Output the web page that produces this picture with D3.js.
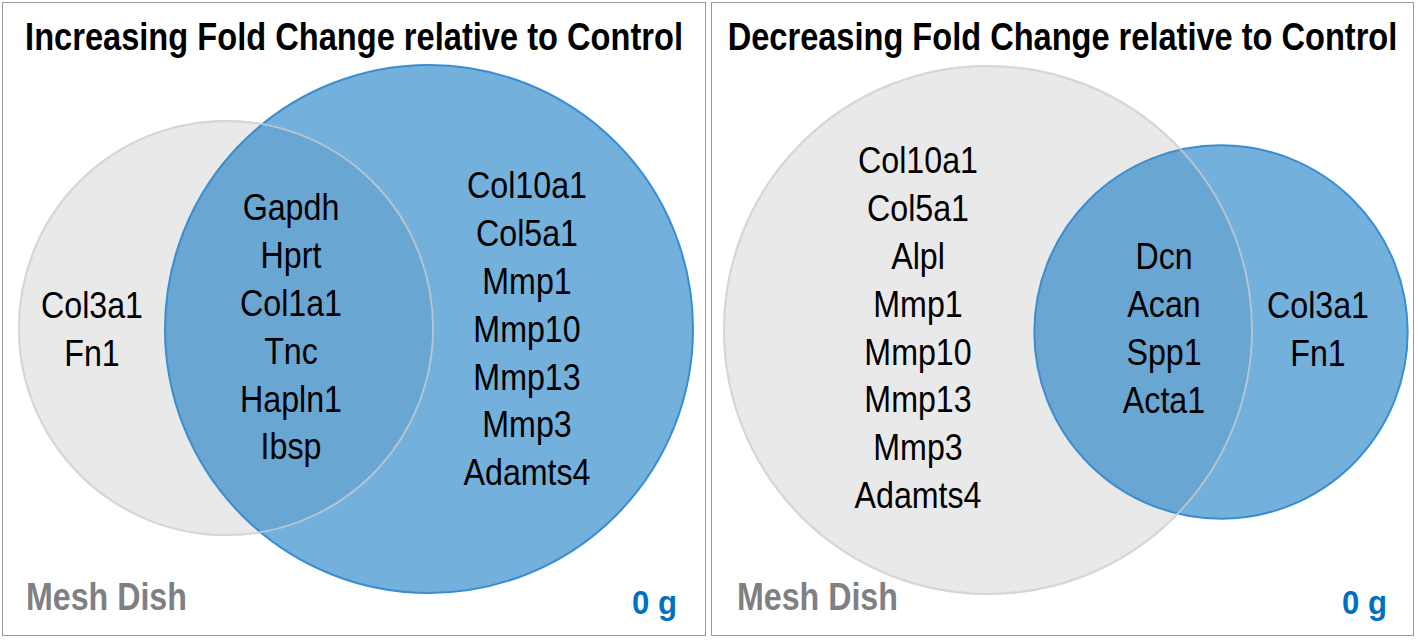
<!DOCTYPE html>
<html>
<head>
<meta charset="utf-8">
<script src="https://cdn.jsdelivr.net/npm/d3@7"></script>
<style>
  html, body { margin: 0; padding: 0; background: #fff; }
  svg { display: block; }
  text { font-family: "Liberation Sans", Arial, sans-serif; }
</style>
</head>
<body>
<svg id="chart" width="1418" height="640"></svg>
<script>
// ---------- data ----------
const panelTitles = ["Increasing Fold Change relative to Control", "Decreasing Fold Change relative to Control"];
const setNames = ["Mesh Dish", "0 g"];

// Increasing panel: genes by region
const incMeshOnly = ["Col3a1", "Fn1"];
const incShared   = ["Gapdh", "Hprt", "Col1a1", "Tnc", "Hapln1", "Ibsp"];
const incZeroOnly = ["Col10a1", "Col5a1", "Mmp1", "Mmp10", "Mmp13", "Mmp3", "Adamts4"];

// Decreasing panel: genes by region
const decMeshOnly = ["Col10a1", "Col5a1", "Alpl", "Mmp1", "Mmp10", "Mmp13", "Mmp3", "Adamts4"];
const decShared   = ["Dcn", "Acan", "Spp1", "Acta1"];
const decZeroOnly = ["Col3a1", "Fn1"];

// ---------- layout ----------
const svg = d3.select("#chart");
const maxR = 264;

const panels = [
  {
    x: 2.5, w: 703, title: panelTitles[0], titleLen: 658,
    meshOnly: incMeshOnly, shared: incShared, zeroOnly: incZeroOnly,
    meshC: [226, 328], zeroC: [429, 329],
    colX: { mesh: 92, shared: 291, zero: 527 },
    colY: { mesh: 318, shared: 220, zero: 198 },
    meshLabelX: 26, zeroLabelX: 677
  },
  {
    x: 711.5, w: 702, title: panelTitles[1], titleLen: 670,
    meshOnly: decMeshOnly, shared: decShared, zeroOnly: decZeroOnly,
    meshC: [988, 330], zeroC: [1221, 332],
    colX: { mesh: 918, shared: 1164, zero: 1318 },
    colY: { mesh: 173, shared: 269, zero: 318 },
    meshLabelX: 737, zeroLabelX: 1387
  }
];

const lineH = 47.9;
const geneSize = 37;
const geneScaleX = 0.87;

// place a text at (x,y) and squeeze it horizontally to a target width
function fitText(parent, str, x, y, width, anchor, attrs) {
  const wrap = parent.append("g");
  const t = wrap.append("text").attr("x", 0).attr("y", 0).attr("text-anchor", anchor).text(str);
  Object.entries(attrs).forEach(([k, v]) => t.attr(k, v));
  const natural = t.node().getComputedTextLength();
  const s = width / natural;
  wrap.attr("transform", `translate(${x},${y}) scale(${s},1)`);
  return t;
}

panels.forEach(p => {
  const meshN = p.meshOnly.length + p.shared.length;
  const zeroN = p.zeroOnly.length + p.shared.length;
  const r = d3.scaleSqrt().domain([0, Math.max(meshN, zeroN)]).range([0, maxR]);

  const g = svg.append("g");

  // panel frame
  g.append("rect")
    .attr("x", p.x).attr("y", 2.5).attr("width", p.w).attr("height", 633)
    .attr("fill", "none").attr("stroke", "#9a9a9a").attr("stroke-width", 1);

  // title
  fitText(g, p.title, p.x + p.w / 2, 50, p.titleLen, "middle",
    { "font-size": 39.5, "font-weight": "bold", fill: "#000" });

  // mesh dish circle (fill)
  g.append("circle")
    .attr("cx", p.meshC[0]).attr("cy", p.meshC[1]).attr("r", r(meshN))
    .attr("fill", "#e9e9e9").attr("stroke", "#d2d2d2").attr("stroke-width", 2);

  // 0 g circle, translucent
  g.append("circle")
    .attr("cx", p.zeroC[0]).attr("cy", p.zeroC[1]).attr("r", r(zeroN))
    .attr("fill", "#0070c0").attr("fill-opacity", 0.55)
    .attr("stroke", "#3b8dd2").attr("stroke-width", 2);

  // mesh dish outline on top
  g.append("circle")
    .attr("cx", p.meshC[0]).attr("cy", p.meshC[1]).attr("r", r(meshN))
    .attr("fill", "none").attr("stroke", "#d8d8d8").attr("stroke-opacity", 0.7).attr("stroke-width", 2);

  // gene columns
  const cols = [
    { list: p.meshOnly, x: p.colX.mesh, y: p.colY.mesh },
    { list: p.shared, x: p.colX.shared, y: p.colY.shared },
    { list: p.zeroOnly, x: p.colX.zero, y: p.colY.zero }
  ];
  cols.forEach(c => {
    const cg = g.append("g").attr("transform", `translate(${c.x},0) scale(${geneScaleX},1)`);
    cg.selectAll("text").data(c.list).join("text")
      .attr("x", 0)
      .attr("y", (d, i) => c.y + i * lineH)
      .attr("text-anchor", "middle")
      .attr("font-size", geneSize).attr("fill", "#000")
      .text(d => d);
  });

  // set labels
  fitText(g, setNames[0], p.meshLabelX, 610, 161, "start",
    { "font-size": 38.5, "font-weight": "bold", fill: "#7f8083" });
  fitText(g, setNames[1], p.zeroLabelX, 614, 45, "end",
    { "font-size": 34, "font-weight": "bold", fill: "#0070c0" });
});
</script>
</body>
</html>
